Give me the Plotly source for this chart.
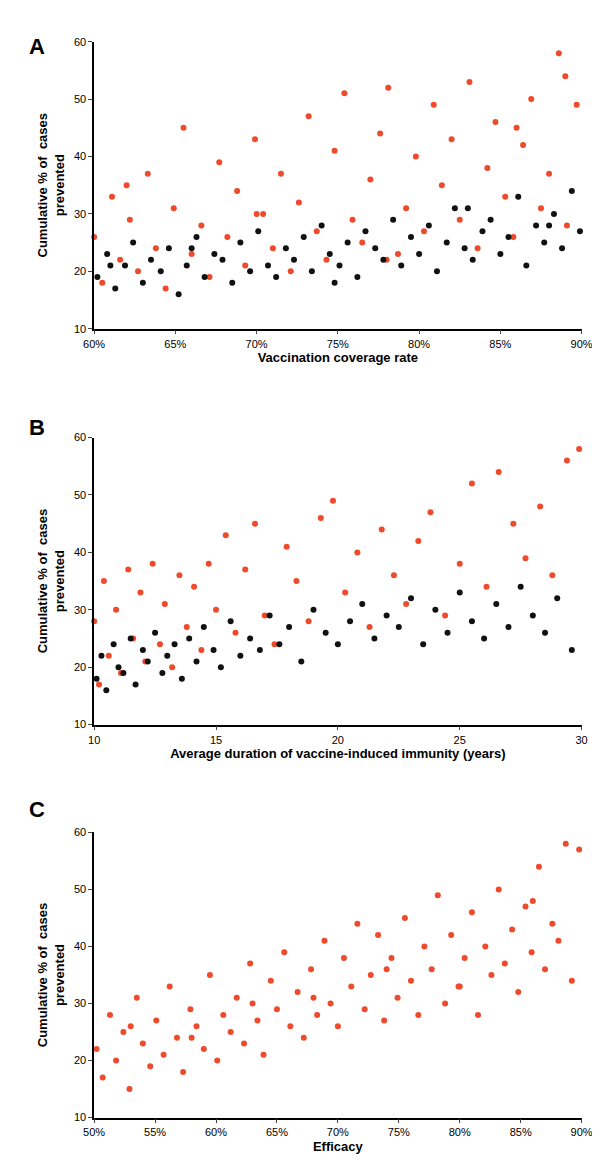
import plotly.graph_objects as go

# Panel A: vaccination coverage rate (%)
a_black_x = [60.2,60.8,61.3,61.9,62.4,63.0,63.5,64.1,64.6,65.2,
             65.7,66.3,66.8,67.4,67.9,68.5,69.0,69.6,70.1,70.7,
             71.2,71.8,72.3,72.9,73.4,74.0,74.5,75.1,75.6,76.2,
             76.7,77.3,77.8,78.4,78.9,79.5,80.0,80.6,81.1,81.7,
             82.2,82.8,83.3,83.9,84.4,85.0,85.5,86.1,86.6,87.2,
             87.7,88.3,88.8,89.4,89.9,61.0,66.0,74.8,83.0,88.0]
a_black_y = [19,23,17,21,25,18,22,20,24,16,
             21,26,19,23,22,18,25,20,27,21,
             19,24,22,26,20,28,23,21,25,19,
             27,24,22,29,21,26,23,28,20,25,
             31,24,22,27,29,23,26,33,21,28,
             25,30,24,34,27,21,24,18,31,28]
a_red_x = [60.0,60.5,61.1,61.6,62.2,62.7,63.3,63.8,64.4,64.9,
           65.5,66.0,66.6,67.1,67.7,68.2,68.8,69.3,69.9,70.4,
           71.0,71.5,72.1,72.6,73.2,73.7,74.3,74.8,75.4,75.9,
           76.5,77.0,77.6,78.1,78.7,79.2,79.8,80.3,80.9,81.4,
           82.0,82.5,83.1,83.6,84.2,84.7,85.3,85.8,86.4,86.9,
           87.5,88.0,88.6,89.1,89.7,62.0,70.0,78.0,86.0,89.0]
a_red_y = [26,18,33,22,29,20,37,24,17,31,
           45,23,28,19,39,26,34,21,43,30,
           24,37,20,32,47,27,22,41,51,29,
           25,36,44,52,23,31,40,27,49,35,
           43,29,53,24,38,46,33,26,42,50,
           31,37,58,28,49,35,30,22,45,54]

# Panel B: average duration of immunity (years)
b_black_x = [10.1,10.3,10.5,10.8,11.0,11.2,11.5,11.7,12.0,12.2,
             12.5,12.8,13.0,13.3,13.6,13.9,14.2,14.5,14.9,15.2,
             15.6,16.0,16.4,16.8,17.2,17.6,18.0,18.5,19.0,19.5,
             20.0,20.5,21.0,21.5,22.0,22.5,23.0,23.5,24.0,24.5,
             25.0,25.5,26.0,26.5,27.0,27.5,28.0,28.5,29.0,29.6]
b_black_y = [18,22,16,24,20,19,25,17,23,21,
             26,19,22,24,18,25,21,27,23,20,
             28,22,25,23,29,24,27,21,30,26,
             24,28,31,25,29,27,32,24,30,26,
             33,28,25,31,27,34,29,26,32,23]
b_red_x = [10.0,10.2,10.4,10.6,10.9,11.1,11.4,11.6,11.9,12.1,
           12.4,12.7,12.9,13.2,13.5,13.8,14.1,14.4,14.7,15.0,
           15.4,15.8,16.2,16.6,17.0,17.4,17.9,18.3,18.8,19.3,
           19.8,20.3,20.8,21.3,21.8,22.3,22.8,23.3,23.8,24.4,
           25.0,25.5,26.1,26.6,27.2,27.7,28.3,28.8,29.4,29.9]
b_red_y = [28,17,35,22,30,19,37,25,33,21,
           38,24,31,20,36,27,34,23,38,30,
           43,26,37,45,29,24,41,35,28,46,
           49,33,40,27,44,36,31,42,47,29,
           38,52,34,54,45,39,48,36,56,58]

# Panel C: efficacy (%)
c_red_x = [50.2,50.7,51.3,51.8,52.4,52.9,53.5,54.0,54.6,55.1,
           55.7,56.2,56.8,57.3,57.9,58.4,59.0,59.5,60.1,60.6,
           61.2,61.7,62.3,62.8,63.4,63.9,64.5,65.0,65.6,66.1,
           66.7,67.2,67.8,68.3,68.9,69.4,70.0,70.5,71.1,71.6,
           72.2,72.7,73.3,73.8,74.4,74.9,75.5,76.0,76.6,77.1,
           77.7,78.2,78.8,79.3,79.9,80.4,81.0,81.5,82.1,82.6,
           83.2,83.7,84.3,84.8,85.4,85.9,86.5,87.0,87.6,88.1,
           88.7,89.2,89.8,53.0,58.0,63.0,68.0,74.0,80.0,86.0]
c_red_y = [22,17,28,20,25,15,31,23,19,27,
           21,33,24,18,29,26,22,35,20,28,
           25,31,23,37,27,21,34,29,39,26,
           32,24,36,28,41,30,26,38,33,44,
           29,35,42,27,38,31,45,34,28,40,
           36,49,30,42,33,38,46,28,40,35,
           50,37,43,32,47,39,54,36,44,41,
           58,34,57,26,24,30,31,36,33,48]

RED = "#ef4a2c"
BLACK = "#111111"
H = 1164

fig = go.Figure()

def pts(x, y, color, ax):
    fig.add_trace(go.Scatter(x=x, y=y, mode="markers", xaxis="x" + ax, yaxis="y" + ax,
                             marker=dict(color=color, size=6), cliponaxis=False,
                             showlegend=False))

pts(a_red_x, a_red_y, RED, "")
pts(a_black_x, a_black_y, BLACK, "")
pts(b_red_x, b_red_y, RED, "2")
pts(b_black_x, b_black_y, BLACK, "2")
pts(c_red_x, c_red_y, RED, "3")

font = dict(family="Liberation Sans, Arial", size=11, color="black")
ytitle = "<b>Cumulative % of  cases<br>prevented</b>"

def yax(top, bottom, anchor):
    return dict(domain=[1 - bottom / H, 1 - top / H], range=[10, 60], dtick=10,
                anchor=anchor, showline=True, linecolor="black", linewidth=1.5,
                ticks="outside", ticklen=4, showgrid=False, zeroline=False,
                title=dict(text=ytitle, font=dict(size=13), standoff=6),
                tickfont=dict(size=11))

def xax(rng, dtick, title, anchor, suffix=""):
    return dict(domain=[78 / 600, 584 / 600], range=rng, dtick=dtick, anchor=anchor,
                ticksuffix=suffix, showline=True, linecolor="black", linewidth=1.5,
                ticks="outside", ticklen=4, showgrid=False, zeroline=False,
                title=dict(text="<b>" + title + "</b>", font=dict(size=13), standoff=4),
                tickfont=dict(size=11))

fig.update_layout(
    width=600, height=H, margin=dict(l=0, r=0, t=0, b=0),
    plot_bgcolor="white", paper_bgcolor="white", font=font,
    xaxis=xax([60, 90], 5, "Vaccination coverage rate", "y", "%"),
    yaxis=yax(28, 318, "x"),
    xaxis2=xax([10, 30], 5, "Average duration of vaccine-induced immunity (years)", "y2"),
    yaxis2=yax(428, 718, "x2"),
    xaxis3=xax([50, 90], 5, "Efficacy", "y3", "%"),
    yaxis3=yax(827, 1115, "x3"),
)

for letter, ypix in [("A", 18), ("B", 418), ("C", 818)]:
    fig.add_annotation(text="<b>" + letter + "</b>", x=8 / 600, y=1 - ypix / H,
                       xref="paper", yref="paper", showarrow=False,
                       xanchor="left", font=dict(size=22, color="black"))

fig.write_html("out.html")
